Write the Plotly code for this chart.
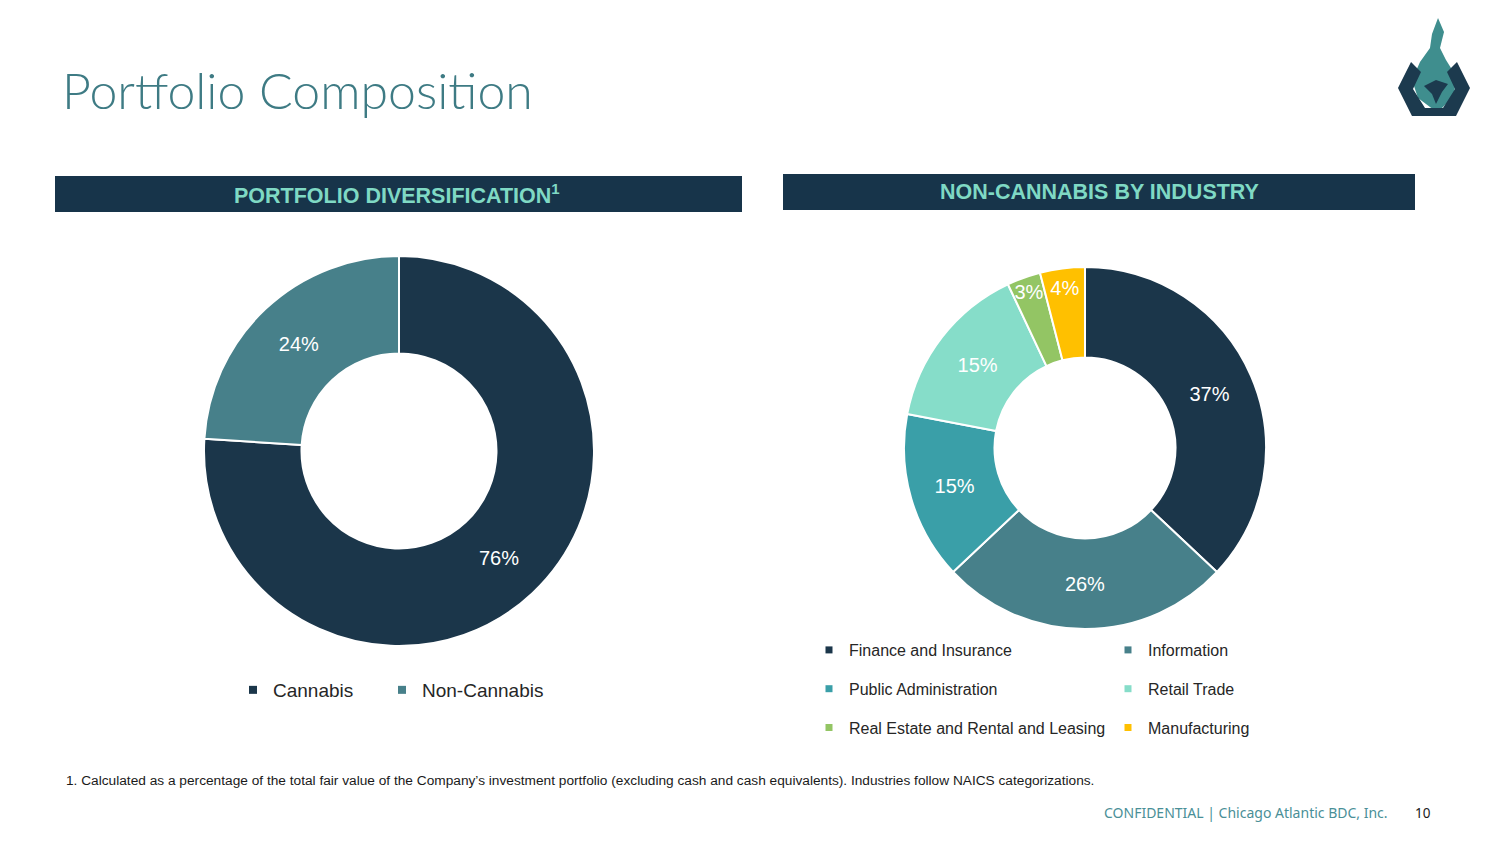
import plotly.graph_objects as go

# ---------------- data ----------------
div_labels = ["Cannabis", "Non-Cannabis"]
div_values = [76, 24]
div_colors = ["#1b364a", "#47808a"]

ind_labels = ["Finance and Insurance", "Information", "Public Administration",
              "Retail Trade", "Real Estate and Rental and Leasing", "Manufacturing"]
ind_values = [37, 26, 15, 15, 3, 4]
ind_colors = ["#1b364a", "#47808a", "#3a9fa8", "#86ddc9", "#93c564", "#ffc000"]

# legend columns for the industry chart (indices into ind_labels)
col_a = [0, 2, 4]
col_b = [1, 3, 5]

W, H = 1500, 843
def px(x):
    return x / W
def py(y):
    return 1 - y / H

fig = go.Figure()

fig.add_trace(go.Pie(
    labels=div_labels, values=div_values, sort=False, direction="clockwise",
    rotation=0, hole=0.5, showlegend=False,
    marker=dict(colors=div_colors, line=dict(color="white", width=2)),
    texttemplate="%{value:.0f}%", textposition="inside",
    insidetextorientation="horizontal",
    textfont=dict(family="Liberation Sans, Arial", size=20, color="white"),
    domain=dict(x=[px(204), px(594)], y=[py(646), py(256)]),
    hoverinfo="label+percent",
))

fig.add_trace(go.Pie(
    labels=ind_labels, values=ind_values, sort=False, direction="clockwise",
    rotation=0, hole=0.5, showlegend=False,
    marker=dict(colors=ind_colors, line=dict(color="white", width=2)),
    texttemplate="%{value:.0f}%", textposition="inside",
    insidetextorientation="horizontal",
    textfont=dict(family="Liberation Sans, Arial", size=20, color="white"),
    domain=dict(x=[px(904), px(1266)], y=[py(629), py(267)]),
    hoverinfo="label+percent",
))

# legend entries
div_legends = ["legend", "legend4"]
for lab, col, lg in zip(div_labels, div_colors, div_legends):
    fig.add_trace(go.Scatter(x=[None], y=[None], mode="markers", name=lab,
                             marker=dict(symbol="square", size=8, color=col),
                             legend=lg, hoverinfo="skip"))
for i in col_a:
    fig.add_trace(go.Scatter(x=[None], y=[None], mode="markers", name=ind_labels[i],
                             marker=dict(symbol="square", size=7, color=ind_colors[i]),
                             legend="legend2", legendgroup=ind_labels[i], hoverinfo="skip"))
for i in col_b:
    fig.add_trace(go.Scatter(x=[None], y=[None], mode="markers", name=ind_labels[i],
                             marker=dict(symbol="square", size=7, color=ind_colors[i]),
                             legend="legend3", legendgroup=ind_labels[i], hoverinfo="skip"))

leg_font_l = dict(family="Liberation Sans, Arial", size=19, color="#262626")
leg_font_r = dict(family="Liberation Sans, Arial", size=16, color="#262626")

shapes = [
    dict(type="rect", xref="paper", yref="paper", x0=px(55), x1=px(742), y0=py(212), y1=py(176),
         fillcolor="#17344a", line=dict(width=0), layer="below"),
    dict(type="rect", xref="paper", yref="paper", x0=px(783), x1=px(1415), y0=py(210), y1=py(174),
         fillcolor="#17344a", line=dict(width=0), layer="below"),
]

def path(points):
    s = "M " + " L ".join(f"{px(x):.5f},{py(y):.5f}" for x, y in points) + " Z"
    return s

# simple logo approximation
logo_dark = [(1398, 88), (1411, 62), (1421, 72), (1413, 89), (1425, 108), (1443, 108),
             (1455, 89), (1447, 72), (1457, 62), (1470, 88), (1456, 116), (1412, 116)]
logo_flame = [(1434, 110), (1418, 98), (1412, 80), (1420, 62), (1430, 48), (1432, 34),
              (1438, 18), (1444, 32), (1440, 48), (1446, 60), (1456, 76), (1454, 96), (1440, 110)]
logo_bird = [(1424, 86), (1436, 80), (1448, 84), (1442, 92), (1436, 104), (1432, 94)]
shapes += [
    dict(type="path", xref="paper", yref="paper", path=path(logo_flame),
         fillcolor="#3f8e8e", line=dict(width=0)),
    dict(type="path", xref="paper", yref="paper", path=path(logo_dark),
         fillcolor="#1c3a4e", line=dict(width=0)),
    dict(type="path", xref="paper", yref="paper", path=path(logo_bird),
         fillcolor="#1c3a4e", line=dict(width=0)),
]

annotations = [
    dict(text="Portfolio Composition", x=px(60), y=py(90), xref="paper", yref="paper",
         xanchor="left", yanchor="middle", showarrow=False,
         font=dict(family="Lato", size=50, weight=300, color="#3e7b84")),
    dict(text="<b>PORTFOLIO DIVERSIFICATION<sup>1</sup></b>", x=px(397), y=py(194),
         xref="paper", yref="paper", xanchor="center", yanchor="middle", showarrow=False,
         font=dict(family="Liberation Sans, Arial", size=21.5, color="#7fd9c4")),
    dict(text="<b>NON-CANNABIS BY INDUSTRY</b>", x=px(1099), y=py(192),
         xref="paper", yref="paper", xanchor="center", yanchor="middle", showarrow=False,
         font=dict(family="Liberation Sans, Arial", size=21.5, color="#7fd9c4")),
    dict(text="1. Calculated as a percentage of the total fair value of the Company\u2019s investment portfolio "
              "(excluding cash and cash equivalents). Industries follow NAICS categorizations.",
         x=px(64), y=py(780), xref="paper", yref="paper", xanchor="left", yanchor="middle",
         showarrow=False, font=dict(family="Liberation Sans, Arial", size=13.7, color="#1a1a1a")),
    dict(text="CONFIDENTIAL | Chicago Atlantic BDC, Inc.", x=px(1390), y=py(812),
         xref="paper", yref="paper", xanchor="right", yanchor="middle", showarrow=False,
         font=dict(family="Noto Sans", size=14, color="#4a8f97")),
    dict(text="10", x=px(1433), y=py(813), xref="paper", yref="paper", xanchor="right",
         yanchor="middle", showarrow=False,
         font=dict(family="Noto Sans", size=13.5, color="#1a1a1a")),
]

fig.update_layout(
    width=W, height=H, margin=dict(l=0, r=0, t=0, b=0),
    paper_bgcolor="white", plot_bgcolor="white",
    xaxis=dict(visible=False), yaxis=dict(visible=False),
    uniformtext=dict(minsize=20, mode="show"),
    shapes=shapes, annotations=annotations,
    legend=dict(orientation="h", x=px(233), y=py(690), xanchor="left", yanchor="middle",
                font=leg_font_l, bgcolor="rgba(0,0,0,0)"),
    legend4=dict(orientation="h", x=px(382), y=py(690), xanchor="left", yanchor="middle",
                 font=leg_font_l, bgcolor="rgba(0,0,0,0)"),
    legend2=dict(orientation="v", x=px(809), y=py(689), xanchor="left", yanchor="middle",
                 tracegroupgap=15, font=leg_font_r, bgcolor="rgba(0,0,0,0)"),
    legend3=dict(orientation="v", x=px(1108), y=py(689), xanchor="left", yanchor="middle",
                 tracegroupgap=15, font=leg_font_r, bgcolor="rgba(0,0,0,0)"),
    hovermode=False,
)

fig.write_html("out.html", config={"displayModeBar": False},
               post_script="document.body.style.margin='0';document.body.style.overflow='hidden';")
